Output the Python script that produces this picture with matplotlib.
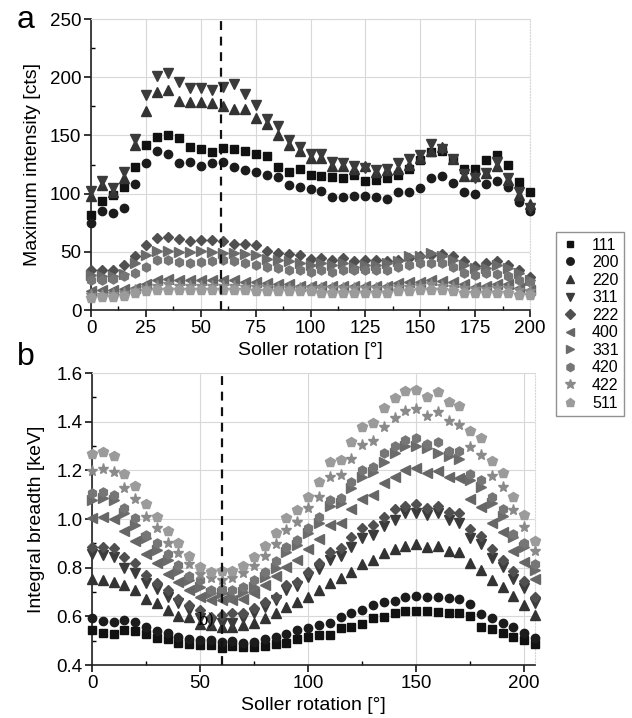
import numpy as np
import matplotlib
matplotlib.use('Agg')
import matplotlib.pyplot as plt
from matplotlib.lines import Line2D

plt.rcParams['font.family'] = ['Liberation Sans', 'DejaVu Sans']

reflections = ['111', '200', '220', '311', '222', '400', '331', '420', '422', '511']

# panel a: maximum intensity [cts], soller rotation 0..200 step 5
x_top = np.arange(0, 201, 5)
top = {
    '111': [82, 94, 99, 106, 123, 142, 149, 150, 148, 140, 138, 136, 139, 138, 137, 134, 132, 123, 119, 121,
            116, 115, 114, 113, 116, 111, 112, 113, 116, 121, 129, 136, 137, 130, 121, 121, 129, 133, 125, 110, 101],
    '200': [75, 85, 83, 88, 108, 126, 137, 134, 126, 127, 124, 126, 127, 123, 120, 119, 116, 114, 107, 106,
            104, 102, 97, 97, 98, 98, 97, 95, 101, 101, 105, 113, 115, 109, 101, 100, 108, 111, 106, 93, 85],
    '220': [98, 107, 101, 113, 142, 171, 187, 189, 180, 179, 179, 178, 175, 173, 173, 165, 160, 150, 142, 137,
            131, 131, 124, 124, 121, 124, 119, 120, 121, 125, 131, 137, 140, 130, 115, 115, 118, 124, 112, 99, 91],
    '311': [102, 111, 105, 119, 147, 185, 201, 204, 196, 191, 191, 189, 192, 194, 186, 176, 164, 158, 146, 140,
            134, 134, 127, 126, 124, 122, 120, 121, 126, 130, 133, 143, 138, 130, 117, 113, 118, 127, 113, 101, 88],
    '222': [34, 34, 34, 39, 46, 56, 62, 63, 61, 59, 60, 60, 59, 57, 57, 56, 51, 49, 48, 47,
            44, 45, 43, 45, 42, 43, 43, 42, 43, 45, 46, 47, 48, 46, 42, 38, 40, 42, 39, 34, 28],
    '400': [16, 17, 17, 18, 19, 22, 26, 27, 26, 26, 26, 26, 26, 26, 24, 24, 23, 22, 22, 21,
            21, 21, 21, 21, 21, 21, 21, 21, 23, 24, 24, 26, 25, 24, 22, 20, 21, 22, 22, 19, 17],
    '331': [30, 29, 29, 31, 40, 47, 51, 51, 50, 50, 51, 50, 49, 49, 48, 47, 44, 43, 42, 40,
            39, 40, 39, 40, 37, 39, 39, 40, 42, 46, 46, 49, 46, 43, 39, 36, 36, 39, 36, 32, 26],
    '420': [26, 26, 27, 29, 32, 37, 43, 43, 41, 40, 41, 42, 43, 42, 40, 39, 37, 36, 34, 34,
            33, 34, 33, 34, 34, 34, 34, 34, 37, 39, 40, 40, 40, 37, 32, 30, 32, 31, 29, 26, 24],
    '422': [13, 13, 14, 15, 17, 19, 21, 22, 21, 21, 21, 21, 21, 21, 20, 20, 20, 19, 19, 19,
            19, 19, 19, 19, 19, 19, 19, 19, 20, 20, 21, 22, 21, 20, 19, 18, 18, 19, 19, 17, 16],
    '511': [10, 11, 11, 12, 15, 16, 17, 17, 17, 17, 17, 17, 17, 17, 17, 16, 16, 16, 16, 16,
            16, 15, 15, 15, 15, 15, 15, 15, 16, 16, 17, 17, 17, 16, 15, 15, 15, 15, 15, 13, 13],
}

# panel b: integral breadth [keV], soller rotation 0..205 step 5
x_bot = np.arange(0, 206, 5)
bot = {
    '111': [0.544, 0.53, 0.526, 0.544, 0.541, 0.526, 0.51, 0.505, 0.492, 0.486, 0.482, 0.482, 0.468, 0.479,
            0.475, 0.473, 0.478, 0.486, 0.492, 0.505, 0.514, 0.523, 0.523, 0.551, 0.557, 0.568, 0.592, 0.599,
            0.615, 0.623, 0.623, 0.623, 0.619, 0.615, 0.615, 0.601, 0.557, 0.547, 0.53, 0.516, 0.503, 0.486],
    '200': [0.592, 0.582, 0.578, 0.585, 0.578, 0.557, 0.541, 0.533, 0.516, 0.505, 0.503, 0.503, 0.496, 0.5,
            0.492, 0.496, 0.505, 0.516, 0.526, 0.544, 0.551, 0.564, 0.571, 0.596, 0.612, 0.626, 0.647, 0.66,
            0.664, 0.681, 0.684, 0.681, 0.681, 0.677, 0.67, 0.649, 0.61, 0.592, 0.574, 0.557, 0.533, 0.512],
    '220': [0.753, 0.749, 0.742, 0.729, 0.708, 0.671, 0.653, 0.626, 0.601, 0.598, 0.568, 0.564, 0.557, 0.557,
            0.564, 0.574, 0.592, 0.615, 0.64, 0.66, 0.681, 0.708, 0.738, 0.756, 0.783, 0.815, 0.832, 0.859,
            0.876, 0.889, 0.897, 0.884, 0.889, 0.87, 0.866, 0.821, 0.79, 0.749, 0.719, 0.684, 0.647, 0.605],
    '311': [0.856, 0.852, 0.845, 0.797, 0.777, 0.736, 0.711, 0.681, 0.653, 0.626, 0.592, 0.578, 0.571, 0.574,
            0.592, 0.612, 0.64, 0.667, 0.708, 0.725, 0.763, 0.793, 0.832, 0.848, 0.886, 0.92, 0.934, 0.971,
            0.996, 1.024, 1.026, 1.017, 1.024, 0.996, 0.982, 0.92, 0.897, 0.838, 0.804, 0.752, 0.715, 0.654],
    '222': [0.886, 0.886, 0.88, 0.845, 0.818, 0.77, 0.736, 0.708, 0.671, 0.647, 0.626, 0.599, 0.605, 0.612,
            0.615, 0.633, 0.66, 0.681, 0.729, 0.742, 0.783, 0.821, 0.866, 0.88, 0.928, 0.962, 0.975, 1.01,
            1.04, 1.055, 1.062, 1.044, 1.053, 1.03, 1.024, 0.958, 0.93, 0.876, 0.832, 0.788, 0.745, 0.678],
    '400': [1.003, 1.007, 0.999, 0.951, 0.911, 0.856, 0.818, 0.774, 0.742, 0.708, 0.681, 0.667, 0.667, 0.667,
            0.671, 0.697, 0.729, 0.766, 0.804, 0.832, 0.876, 0.917, 0.975, 0.985, 1.04, 1.081, 1.099, 1.147,
            1.174, 1.201, 1.208, 1.188, 1.199, 1.174, 1.17, 1.081, 1.051, 0.985, 0.948, 0.87, 0.825, 0.752],
    '331': [1.078, 1.085, 1.078, 1.024, 0.975, 0.92, 0.873, 0.832, 0.788, 0.749, 0.722, 0.695, 0.695, 0.681,
            0.70, 0.72, 0.76, 0.80, 0.866, 0.893, 0.941, 0.985, 1.053, 1.064, 1.126, 1.174, 1.195, 1.236,
            1.27, 1.3, 1.3, 1.29, 1.27, 1.259, 1.245, 1.16, 1.133, 1.064, 1.012, 0.925, 0.886, 0.79],
    '420': [1.106, 1.112, 1.099, 1.044, 1.003, 0.934, 0.9, 0.855, 0.811, 0.767, 0.749, 0.708, 0.712, 0.708,
            0.722, 0.749, 0.783, 0.829, 0.886, 0.914, 0.962, 1.01, 1.078, 1.085, 1.153, 1.201, 1.215, 1.27,
            1.3, 1.325, 1.332, 1.308, 1.318, 1.28, 1.28, 1.185, 1.16, 1.092, 1.041, 0.938, 0.9, 0.815],
    '422': [1.199, 1.206, 1.195, 1.126, 1.081, 1.01, 0.964, 0.9, 0.862, 0.815, 0.774, 0.756, 0.75, 0.756,
            0.777, 0.807, 0.848, 0.897, 0.955, 0.989, 1.044, 1.092, 1.172, 1.181, 1.245, 1.304, 1.322, 1.377,
            1.414, 1.445, 1.452, 1.423, 1.441, 1.403, 1.386, 1.295, 1.263, 1.177, 1.133, 1.037, 0.968, 0.869],
    '511': [1.267, 1.277, 1.259, 1.185, 1.137, 1.062, 1.01, 0.952, 0.903, 0.849, 0.804, 0.784, 0.788, 0.788,
            0.807, 0.845, 0.889, 0.941, 1.003, 1.037, 1.092, 1.153, 1.236, 1.243, 1.318, 1.377, 1.396, 1.455,
            1.497, 1.527, 1.53, 1.503, 1.523, 1.48, 1.466, 1.363, 1.334, 1.24, 1.19, 1.092, 1.017, 0.91],
}

# marker, size, grey level per reflection
markers = {'111': 's', '200': 'o', '220': '^', '311': 'v', '222': 'D',
           '400': '<', '331': '>', '420': 'h', '422': '*', '511': 'p'}
sizes = {'111': 5.5, '200': 6, '220': 7, '311': 7, '222': 5.5,
         '400': 7, '331': 7, '420': 6.5, '422': 8, '511': 7}
colors = {'111': '#111111', '200': '#1c1c1c', '220': '#333333', '311': '#3b3b3b', '222': '#505050',
          '400': '#666666', '331': '#6b6b6b', '420': '#767676', '422': '#8a8a8a', '511': '#9b9b9b'}

fig = plt.figure(figsize=(6.32, 7.18), dpi=100)
ax1 = fig.add_axes([0.144, 0.5682, 0.6946, 0.4053])
ax2 = fig.add_axes([0.1456, 0.0738, 0.7009, 0.4067])

for r in reflections:
    ax1.plot(x_top, top[r], ls='none', marker=markers[r], ms=sizes[r], color=colors[r],
             mec=colors[r], clip_on=False, zorder=3)
    ax2.plot(x_bot, bot[r], ls='none', marker=markers[r], ms=sizes[r], color=colors[r],
             mec=colors[r], clip_on=False, zorder=3)

ax1.axvline(59, color='#111111', ls=(0, (4, 3)), lw=1.6, zorder=4)
ax2.axvline(60, color='#111111', ls=(0, (4, 3)), lw=1.6, zorder=4)
ax2.text(53, 0.585, 'b)', fontsize=12, family='DejaVu Serif', ha='center', va='center', zorder=5)

ax1.set_xlim(0, 200)
ax1.set_ylim(0, 250)
ax1.set_xticks(np.arange(0, 201, 25))
ax1.set_xticks(np.arange(0, 201, 12.5), minor=True)
ax1.set_yticks(np.arange(0, 251, 50))
ax1.set_yticks(np.arange(0, 251, 25), minor=True)
ax1.set_xlabel('Soller rotation [°]', fontsize=14, labelpad=4)
ax1.set_ylabel('Maximum intensity [cts]', fontsize=14, labelpad=6)

ax2.set_xlim(0, 205)
ax2.set_ylim(0.4, 1.6)
ax2.set_xticks(np.arange(0, 201, 50))
ax2.set_xticks(np.arange(0, 201, 25), minor=True)
ax2.set_yticks(np.arange(0.4, 1.61, 0.2))
ax2.set_yticks(np.arange(0.4, 1.61, 0.1), minor=True)
ax2.yaxis.set_major_formatter(matplotlib.ticker.FormatStrFormatter('%.1f'))
ax2.set_xlabel('Soller rotation [°]', fontsize=14, labelpad=4)
ax2.set_ylabel('Integral breadth [keV]', fontsize=14, labelpad=8)

for ax in (ax1, ax2):
    ax.grid(True, color='#d8d8d8', lw=0.8)
    ax.set_axisbelow(True)
    for s in ('top', 'right'):
        ax.spines[s].set_color('#d8d8d8')
        ax.spines[s].set_linestyle(':')
    for s in ('left', 'bottom'):
        ax.spines[s].set_color('#222222')
        ax.spines[s].set_linewidth(1.2)
    ax.tick_params(which='major', direction='out', length=5, width=1.1, labelsize=13.5, pad=2,
                   top=False, right=False)
    ax.tick_params(which='minor', direction='in', length=3, width=1.0, top=False, right=False)

fig.text(0.027, 0.972, 'a', fontsize=23, va='center', ha='left')
fig.text(0.027, 0.503, 'b', fontsize=23, va='center', ha='left')

handles = [Line2D([], [], ls='none', marker=markers[r], ms=sizes[r] * 0.9, color=colors[r], mec=colors[r])
           for r in reflections]
leg = fig.legend(handles, reflections, loc='upper left', bbox_to_anchor=(0.88, 0.677),
                 frameon=True, fancybox=False, edgecolor='#777777', fontsize=11.5,
                 handlelength=1.0, handletextpad=0.9, labelspacing=0.16, borderpad=0.35,
                 borderaxespad=0)
leg.get_frame().set_linewidth(1.0)

plt.savefig('out.png', dpi=100)
